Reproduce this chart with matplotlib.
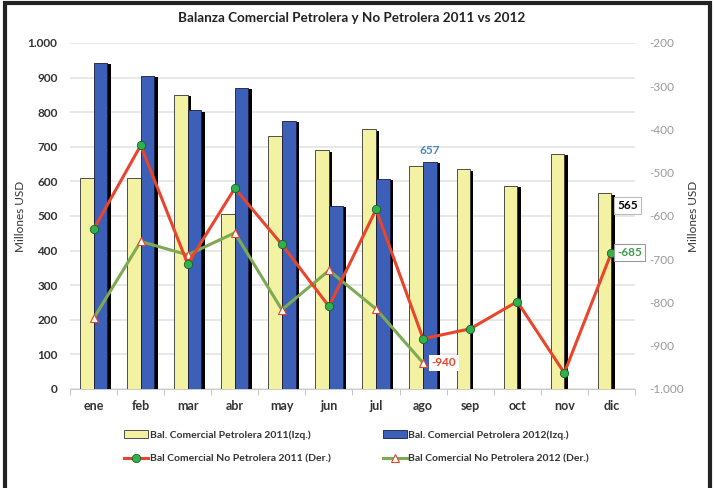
import numpy as np
import matplotlib
matplotlib.use("Agg")
import matplotlib.pyplot as plt
from matplotlib.patches import Rectangle
from matplotlib.ticker import FuncFormatter, FixedLocator

plt.rcParams['font.family'] = ['Lato', 'DejaVu Sans']

# Datos
meses = ["ene", "feb", "mar", "abr", "may", "jun", "jul", "ago", "sep", "oct", "nov", "dic"]
petrolera_2011 = [610, 610, 850, 505, 732, 690, 750, 645, 635, 587, 680, 565]
petrolera_2012 = [942, 905, 805, 870, 775, 530, 608, 657]
no_petrolera_2011 = [-631, -437, -711, -536, -666, -809, -585, -884, -861, -798, -963, -685]
no_petrolera_2012 = [-837, -659, -690, -639, -817, -726, -815, -940]

# Colores
c_amarillo = "#F2F2A2"
c_azul = "#3C5FB8"
c_rojo = "#E8452C"
c_verde = "#7DAA52"
c_punto = "#2FB24C"

fig = plt.figure(figsize=(7.15, 4.88), dpi=100)
ax = fig.add_axes([0.098, 0.203, 0.79, 0.709])
ax2 = ax.twinx()

x = np.arange(len(meses))
w = 0.29
sombra = 0.07

# Barras con sombra negra
x11 = x - w / 2
x12 = x[:len(petrolera_2012)] + w / 2
ax.bar(x11 + sombra, np.array(petrolera_2011) - 4, width=w, color="black", zorder=2)
ax.bar(x12 + sombra, np.array(petrolera_2012) - 4, width=w, color="black", zorder=2)
b1 = ax.bar(x11, petrolera_2011, width=w, color=c_amarillo, edgecolor="#333333", linewidth=0.6, zorder=3,
            label="Bal. Comercial Petrolera 2011(Izq.)")
b2 = ax.bar(x12, petrolera_2012, width=w, color=c_azul, edgecolor="#1a1a40", linewidth=0.6, zorder=3,
            label="Bal. Comercial Petrolera 2012(Izq.)")

ax.set_ylim(0, 1000)
ax.set_xlim(-0.5, 11.5)
ax.set_yticks(np.arange(0, 1001, 100))
ax.yaxis.set_major_formatter(FuncFormatter(lambda v, p: f"{int(v):,}".replace(",", ".")))
ax.grid(axis="y", color="#e4e4e4", linewidth=1.2, zorder=0)
ax.set_axisbelow(True)
ax.set_xticks(x)
ax.set_xticklabels(meses, fontsize=9, fontweight="bold", color="#333333")
ax.xaxis.set_minor_locator(FixedLocator(np.arange(-0.5, 12, 1)))
ax.tick_params(axis="x", which="major", length=0, pad=8)
ax.tick_params(axis="x", which="minor", length=4, color="#bbbbbb", direction="out")
ax.tick_params(axis="y", length=0, labelsize=8.5, labelcolor="#333333", pad=9)
for lbl in ax.get_yticklabels():
    lbl.set_fontweight("bold")
ax.set_ylabel("Millones USD", fontsize=8.5, color="#333333", labelpad=1)

for s in ["top", "left", "right"]:
    ax.spines[s].set_visible(False)
    ax2.spines[s].set_visible(False)
ax.spines["bottom"].set_color("#cccccc")
ax2.spines["bottom"].set_visible(False)

# Lineas eje derecho
l1, = ax2.plot(x, no_petrolera_2011, color=c_rojo, linewidth=2.2, marker="o", markersize=6,
               markerfacecolor=c_punto, markeredgecolor="#1d5e2a", markeredgewidth=0.6, zorder=5,
               label="Bal Comercial No Petrolera 2011 (Der.)")
l2, = ax2.plot(x[:len(no_petrolera_2012)], no_petrolera_2012, color=c_verde, linewidth=2.2, marker="^",
               markersize=6, markerfacecolor="white", markeredgecolor=c_rojo, markeredgewidth=0.8, zorder=4,
               label="Bal Comercial No Petrolera 2012 (Der.)")
ax2.set_ylim(-1000, -200)
ax2.set_yticks(np.arange(-1000, -199, 100))
ax2.yaxis.set_major_formatter(FuncFormatter(lambda v, p: f"{int(v):,}".replace(",", ".")))
ax2.tick_params(axis="y", length=0, labelsize=8.5, labelcolor="#999999", pad=10)
ax2.set_ylabel("Millones USD", fontsize=8.5, color="#333333", labelpad=3, rotation=90)

# Etiquetas de datos
ax.text(x12[7], petrolera_2012[7] + 15, "657", color="#4A86C0", fontsize=8.5, fontweight="bold",
        ha="center", va="bottom", zorder=6)
ax.text(x[11] + 0.12, 530, "565", color="black", fontsize=8.5, fontweight="bold",
        ha="left", va="center", zorder=6,
        bbox=dict(boxstyle="square,pad=0.25", fc="white", ec="#bbbbbb", lw=0.8))
ax2.text(x[11] + 0.12, no_petrolera_2011[11], "-685", color="#3E9B4A", fontsize=8.5, fontweight="bold",
         ha="left", va="center", zorder=6,
         bbox=dict(boxstyle="square,pad=0.25", fc="white", ec="#999999", lw=0.8))
ax2.text(x[7] + 0.18, no_petrolera_2012[7], "-940", color=c_rojo, fontsize=8.5, fontweight="bold",
         ha="left", va="center", zorder=6,
         bbox=dict(boxstyle="square,pad=0.2", fc="white", ec="none"))

fig.suptitle("Balanza Comercial Petrolera y No Petrolera 2011 vs 2012", x=0.492, y=0.975,
             fontsize=9.7, fontweight="bold", color="#222222")

# Leyenda
leg = fig.legend([b1, l1, b2, l2], [h.get_label() for h in [b1, l1, b2, l2]], ncol=2,
                 loc="upper left", bbox_to_anchor=(0.168, 0.127), frameon=False,
                 fontsize=7.5, handlelength=2.3, handletextpad=0.15, columnspacing=5.0,
                 labelspacing=1.4, borderaxespad=0)
for t in leg.get_texts():
    t.set_fontweight("bold")
    t.set_color("#333333")

# Marco exterior
fig.patches.append(Rectangle((0.007, -0.02), 0.986, 1.014, transform=fig.transFigure,
                             fill=False, edgecolor="#222222", linewidth=3))

fig.savefig("out.png", dpi=100)
